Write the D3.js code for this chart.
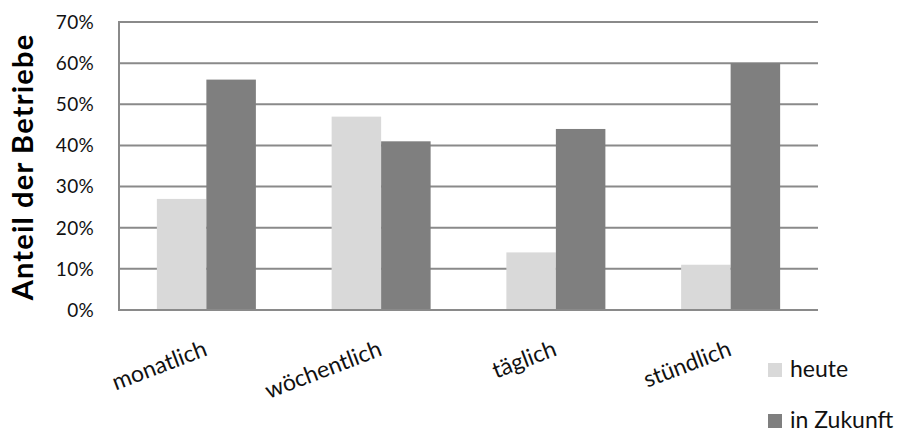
<!DOCTYPE html>
<html>
<head>
<meta charset="utf-8">
<script src="https://cdn.jsdelivr.net/npm/d3@7"></script>
<style>
  html, body { margin: 0; padding: 0; background: #fff; }
  svg { display: block; font-family: Lato, "Open Sans", sans-serif; }
</style>
</head>
<body>
<svg id="chart" width="898" height="432"></svg>
<script>
// Frequency categories and shares of companies (percent)
const categories = ["monatlich", "wöchentlich", "täglich", "stündlich"];
const seriesNames = ["heute", "in Zukunft"];
const heute = [27, 47, 14, 11];
const inZukunft = [56, 41, 44, 60];
const yTicks = [0, 10, 20, 30, 40, 50, 60, 70];
const colors = ["#d9d9d9", "#7f7f7f"];

const svg = d3.select("#chart");
const plot = { left: 119, right: 818, top: 22, bottom: 310 };

const x = d3.scaleBand().domain(categories).range([plot.left, plot.right]).paddingInner(0).paddingOuter(0);
const sub = d3.scaleBand().domain(seriesNames).range([0, x.bandwidth()]).paddingInner(0).paddingOuter(0.765);
const y = d3.scaleLinear().domain([0, 70]).range([plot.bottom, plot.top]);

// horizontal gridlines
svg.append("g")
  .selectAll("line")
  .data(yTicks)
  .join("line")
  .attr("x1", plot.left).attr("x2", plot.right)
  .attr("y1", d => y(d)).attr("y2", d => y(d))
  .attr("stroke", "#8a8a8a").attr("stroke-width", 2);

// left axis line
svg.append("line")
  .attr("x1", plot.left).attr("x2", plot.left)
  .attr("y1", y(70) - 1).attr("y2", y(0) + 1)
  .attr("stroke", "#8a8a8a").attr("stroke-width", 2);

// bars
const rows = categories.map((c, i) => ({ cat: c, vals: [heute[i], inZukunft[i]] }));
const groups = svg.append("g").selectAll("g")
  .data(rows).join("g")
  .attr("transform", d => `translate(${x(d.cat)},0)`);
groups.selectAll("rect")
  .data(d => d.vals.map((v, k) => ({ name: seriesNames[k], v, k })))
  .join("rect")
  .attr("x", d => sub(d.name))
  .attr("width", sub.bandwidth())
  .attr("y", d => y(d.v))
  .attr("height", d => y(0) - y(d.v))
  .attr("fill", d => colors[d.k]);

// bottom axis line drawn over bars
svg.append("line")
  .attr("x1", plot.left - 1).attr("x2", plot.right)
  .attr("y1", y(0)).attr("y2", y(0))
  .attr("stroke", "#8a8a8a").attr("stroke-width", 2);

// y tick labels
svg.append("g")
  .selectAll("text")
  .data(yTicks)
  .join("text")
  .attr("x", 94)
  .attr("y", d => y(d))
  .attr("dy", "0.36em")
  .attr("text-anchor", "end")
  .attr("font-size", 19)
  .attr("letter-spacing", 0.3)
  .attr("fill", "#111")
  .text(d => d + "%");

// category labels, rotated
svg.append("g")
  .selectAll("text")
  .data(categories)
  .join("text")
  .attr("text-anchor", "end")
  .attr("font-size", 23)
  .attr("fill", "#111")
  .attr("transform", d => `translate(${x(d) + x.bandwidth() / 2 + 2},355) rotate(-21)`)
  .text(d => d);

// y axis title
svg.append("text")
  .attr("transform", `translate(33,${(plot.top + plot.bottom) / 2 + 1}) rotate(-90)`)
  .attr("text-anchor", "middle")
  .attr("font-size", 29)
  .attr("letter-spacing", 1.2)
  .attr("font-weight", "bold")
  .attr("fill", "#000")
  .text("Anteil der Betriebe");

// legend
const legend = svg.append("g").selectAll("g")
  .data(seriesNames).join("g")
  .attr("transform", (d, i) => `translate(768,${363 + i * 51})`);
legend.append("rect")
  .attr("width", 14).attr("height", 14)
  .attr("fill", (d, i) => colors[i]);
legend.append("text")
  .attr("x", 22).attr("y", 14)
  .attr("font-size", 23)
  .attr("fill", "#111")
  .text(d => d);
</script>
</body>
</html>
